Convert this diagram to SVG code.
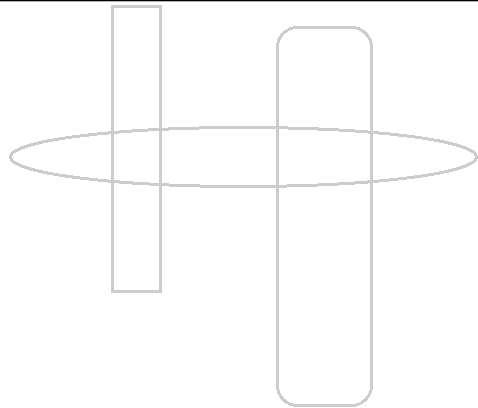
<svg xmlns="http://www.w3.org/2000/svg" width="478" height="408" viewBox="0 0 478 408">
<style>
.s{fill:none;stroke:#cccccc;stroke-width:3;shape-rendering:crispEdges}
</style>
<rect width="478" height="408" fill="#ffffff"/>
<rect x="0" y="0" width="478" height="1.3" fill="#000000"/>
<g id="tall-rect"><rect class="s" x="112" y="6" width="48" height="285"/></g>
<g id="rounded-rect"><rect class="s" x="277.5" y="27.5" width="94" height="378" rx="20" ry="20"/></g>
<g id="ellipse"><ellipse class="s" cx="243.5" cy="157" rx="233" ry="29.5"/></g>
<g id="connectors"></g>
</svg>
